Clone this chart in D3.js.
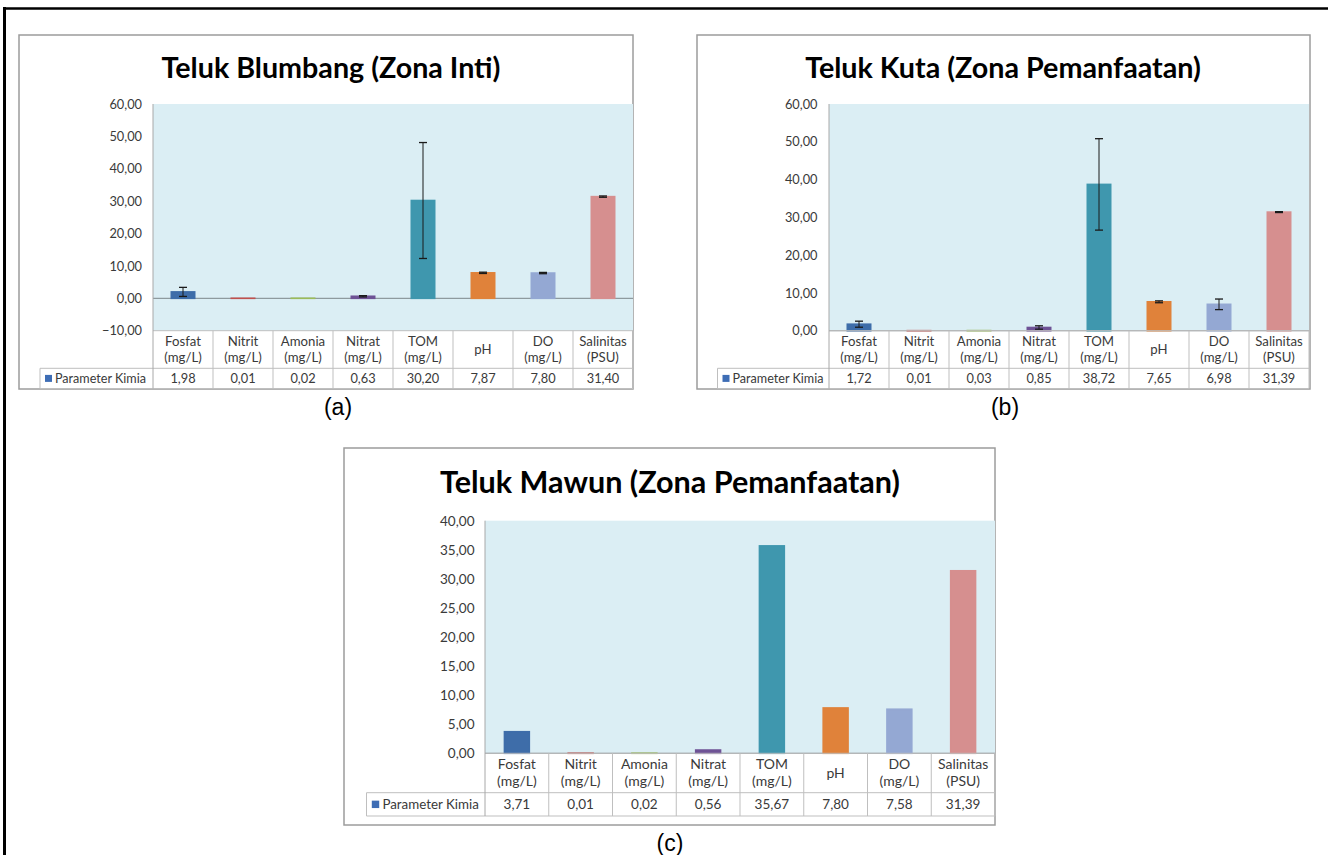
<!DOCTYPE html>
<html>
<head>
<meta charset="utf-8">
<script src="https://cdn.jsdelivr.net/npm/d3@7"></script>
<style>
  html, body { margin: 0; padding: 0; background: #ffffff; }
  svg { display: block; }
</style>
</head>
<body>
<svg id="chart" width="1333" height="855"></svg>
<script>
// ---------------- DATA ----------------
const categories = ["Fosfat", "Nitrit", "Amonia", "Nitrat", "TOM", "pH", "DO", "Salinitas"];
const catLine1 = ["Fosfat", "Nitrit", "Amonia", "Nitrat", "TOM", "pH", "DO", "Salinitas"];
const catLine2 = ["(mg/L)", "(mg/L)", "(mg/L)", "(mg/L)", "(mg/L)", "", "(mg/L)", "(PSU)"];
const seriesName = "Parameter Kimia";
const barColors = ["#3E6DA9", "#C0504D", "#9BBB59", "#6E5295", "#3F97AE", "#E0823A", "#94A8D3", "#D68F8F"];

const titleA = "Teluk Blumbang (Zona Inti)";
const valuesA = [1.98, 0.01, 0.02, 0.63, 30.20, 7.87, 7.80, 31.40];
const errorsA = [1.4, 0, 0, 0.2, 17.9, 0.2, 0.2, 0.2];
const ticksA = [-10, 0, 10, 20, 30, 40, 50, 60];

const titleB = "Teluk Kuta (Zona Pemanfaatan)";
const valuesB = [1.72, 0.01, 0.03, 0.85, 38.72, 7.65, 6.98, 31.39];
const errorsB = [0.8, 0, 0, 0.45, 12.1, 0.25, 1.4, 0.12];
const ticksB = [0, 10, 20, 30, 40, 50, 60];

const titleC = "Teluk Mawun (Zona Pemanfaatan)";
const valuesC = [3.71, 0.01, 0.02, 0.56, 35.67, 7.80, 7.58, 31.39];
const errorsC = [0, 0, 0, 0, 0, 0, 0, 0];
const ticksC = [0, 5, 10, 15, 20, 25, 30, 35, 40];

const captions = ["(a)", "(b)", "(c)"];

// ---------------- DRAW ----------------
const svg = d3.select("#chart");
const fmt = d => d3.format(".2f")(d).replace(".", ",");
const FONT = "Lato, 'Open Sans', sans-serif";
const TXT = "#3a3a3a";

// outer frame (top and left lines)
svg.append("line").attr("x1", 3).attr("x2", 1328).attr("y1", 8.5).attr("y2", 8.5)
  .attr("stroke", "#000").attr("stroke-width", 2.5);
svg.append("line").attr("x1", 4.5).attr("x2", 4.5).attr("y1", 7).attr("y2", 855)
  .attr("stroke", "#000").attr("stroke-width", 3);

function drawPanel(cfg) {
  const g = svg.append("g");
  const s = cfg.scale;
  // box
  g.append("rect").attr("x", cfg.box[0]).attr("y", cfg.box[1])
    .attr("width", cfg.box[2]).attr("height", cfg.box[3])
    .attr("fill", "#fff").attr("stroke", "#9C9C9C").attr("stroke-width", 1.5);

  const x = d3.scaleBand().domain(categories).range([cfg.plotX, cfg.plotX + cfg.plotW]).padding(0);
  const y = d3.scaleLinear().domain(cfg.domain).range([cfg.plotBottom, cfg.plotTop]);

  // plot background
  g.append("rect").attr("x", cfg.plotX).attr("y", cfg.plotTop)
    .attr("width", cfg.plotW).attr("height", cfg.plotBottom - cfg.plotTop)
    .attr("fill", "#DBEEF4");

  // zero line
  g.append("line").attr("x1", cfg.plotX).attr("x2", cfg.plotX + cfg.plotW)
    .attr("y1", y(0)).attr("y2", y(0)).attr("stroke", "#8E9A9E").attr("stroke-width", 1.2);

  // bars
  const bw = x.bandwidth() * 0.39;
  g.selectAll("rect.bar").data(cfg.values).join("rect").attr("class", "bar")
    .attr("x", (d, i) => x(categories[i]) + (x.bandwidth() - bw) / 2)
    .attr("y", d => y(Math.max(0, d)))
    .attr("width", bw)
    .attr("height", d => Math.abs(y(d) - y(0)))
    .attr("fill", (d, i) => barColors[i])
    .attr("stroke", (d, i) => barColors[i]).attr("stroke-width", 1.6);

  // error bars
  const eg = g.append("g");
  cfg.values.forEach((v, i) => {
    const e = cfg.errors[i];
    if (!e) return;
    const cx = x(categories[i]) + x.bandwidth() / 2;
    const y1 = y(v + e), y2 = y(v - e);
    eg.append("line").attr("x1", cx).attr("x2", cx).attr("y1", y1).attr("y2", y2)
      .attr("stroke", "#1a1a1a").attr("stroke-width", 1);
    [y1, y2].forEach(yy => eg.append("line").attr("x1", cx - 4).attr("x2", cx + 4)
      .attr("y1", yy).attr("y2", yy).attr("stroke", "#1a1a1a").attr("stroke-width", 1.3));
  });

  // y axis labels
  const ax = g.append("g").attr("transform", `translate(${cfg.plotX},0)`)
    .call(d3.axisLeft(y).tickValues(cfg.ticks).tickSize(0).tickPadding(cfg.tickPad).tickFormat(fmt));
  ax.select(".domain").remove();
  ax.selectAll("text").attr("font-family", FONT).attr("font-size", 12.8 * s).attr("fill", TXT);

  // table
  const tl = "#BFBFBF";
  const hdrBottom = cfg.hdrBottom, valBottom = cfg.valBottom;
  g.append("line").attr("x1", cfg.plotX).attr("x2", cfg.plotX + cfg.plotW)
    .attr("y1", cfg.plotBottom).attr("y2", cfg.plotBottom).attr("stroke", tl);
  g.append("line").attr("x1", cfg.legendX).attr("x2", cfg.plotX + cfg.plotW)
    .attr("y1", hdrBottom).attr("y2", hdrBottom).attr("stroke", tl);
  g.append("line").attr("x1", cfg.legendX).attr("x2", cfg.plotX + cfg.plotW)
    .attr("y1", valBottom).attr("y2", valBottom).attr("stroke", tl);
  g.append("line").attr("x1", cfg.legendX).attr("x2", cfg.legendX)
    .attr("y1", hdrBottom).attr("y2", valBottom).attr("stroke", tl);
  categories.forEach((c, i) => {
    if (i === 0) return;
    g.append("line").attr("x1", x(c)).attr("x2", x(c))
      .attr("y1", cfg.plotBottom).attr("y2", valBottom).attr("stroke", tl);
  });
  g.append("line").attr("x1", cfg.plotX + cfg.plotW).attr("x2", cfg.plotX + cfg.plotW)
    .attr("y1", cfg.plotBottom).attr("y2", valBottom).attr("stroke", tl);
  g.append("line").attr("x1", cfg.plotX).attr("x2", cfg.plotX)
    .attr("y1", cfg.plotTop).attr("y2", valBottom).attr("stroke", "#A8A8A8");

  // header texts
  const hMid = (cfg.plotBottom + hdrBottom) / 2;
  const hs = 13.2 * s;
  categories.forEach((c, i) => {
    const cx = x(c) + x.bandwidth() / 2;
    const lines = catLine2[i] ? [[catLine1[i], -8 * s], [catLine2[i], 8 * s]] : [[catLine1[i], 0]];
    lines.forEach(([txt, off]) => {
      g.append("text").attr("x", cx).attr("y", hMid + off).attr("dy", "0.35em")
        .attr("text-anchor", "middle").attr("font-family", FONT).attr("font-size", hs)
        .attr("fill", TXT).text(txt);
    });
  });
  // value texts
  const vMid = (hdrBottom + valBottom) / 2;
  cfg.values.forEach((v, i) => {
    const cx = x(categories[i]) + x.bandwidth() / 2;
    g.append("text").attr("x", cx).attr("y", vMid).attr("dy", "0.35em")
      .attr("text-anchor", "middle").attr("font-family", FONT).attr("font-size", 12.8 * s)
      .attr("fill", TXT).text(fmt(v));
  });
  // legend
  g.append("rect").attr("x", cfg.legendX + 5 * s).attr("y", vMid - 3.5 * s)
    .attr("width", 7 * s).attr("height", 7 * s).attr("fill", "#3E6DB5");
  g.append("text").attr("x", cfg.legendX + 15 * s).attr("y", vMid).attr("dy", "0.35em")
    .attr("font-family", FONT).attr("font-size", 12.6 * s).attr("fill", TXT).text(seriesName);

  // title
  const t = g.append("text").attr("x", cfg.titleX).attr("y", cfg.titleY)
    .attr("text-anchor", "middle").attr("font-family", FONT).attr("font-weight", 700)
    .attr("font-size", 24).attr("fill", "#000").text(cfg.title);
  const w = t.node().getComputedTextLength();
  t.attr("font-size", 24 * cfg.titleW / w);

  // caption
  svg.append("text").attr("x", cfg.capX).attr("y", cfg.capY).attr("text-anchor", "middle")
    .attr("font-family", "'Liberation Sans', Arial, sans-serif").attr("font-size", 23)
    .attr("fill", "#000").text(cfg.caption);
}

drawPanel({
  title: titleA, values: valuesA, errors: errorsA, ticks: ticksA, domain: [-10, 60],
  box: [19, 35, 614, 354], plotX: 153, plotW: 480, plotTop: 104, plotBottom: 330.7,
  hdrBottom: 368.3, valBottom: 388.5, legendX: 40, tickPad: 11, scale: 1,
  titleX: 331, titleY: 78, titleW: 339, caption: captions[0], capX: 338, capY: 415
});
drawPanel({
  title: titleB, values: valuesB, errors: errorsB, ticks: ticksB, domain: [0, 60],
  box: [697, 35, 613, 354], plotX: 829, plotW: 480, plotTop: 104, plotBottom: 330.7,
  hdrBottom: 368.3, valBottom: 388.5, legendX: 717.5, tickPad: 11.5, scale: 1,
  titleX: 1003, titleY: 78, titleW: 396, caption: captions[1], capX: 1005, capY: 415
});
drawPanel({
  title: titleC, values: valuesC, errors: errorsC, ticks: ticksC, domain: [0, 40],
  box: [344, 448, 651, 377], plotX: 485, plotW: 510, plotTop: 520.7, plotBottom: 753.3,
  hdrBottom: 792.7, valBottom: 816, legendX: 366.5, tickPad: 10.5, scale: 1.06,
  titleX: 670, titleY: 493, titleW: 460, caption: captions[2], capX: 670, capY: 851
});
</script>
</body>
</html>
